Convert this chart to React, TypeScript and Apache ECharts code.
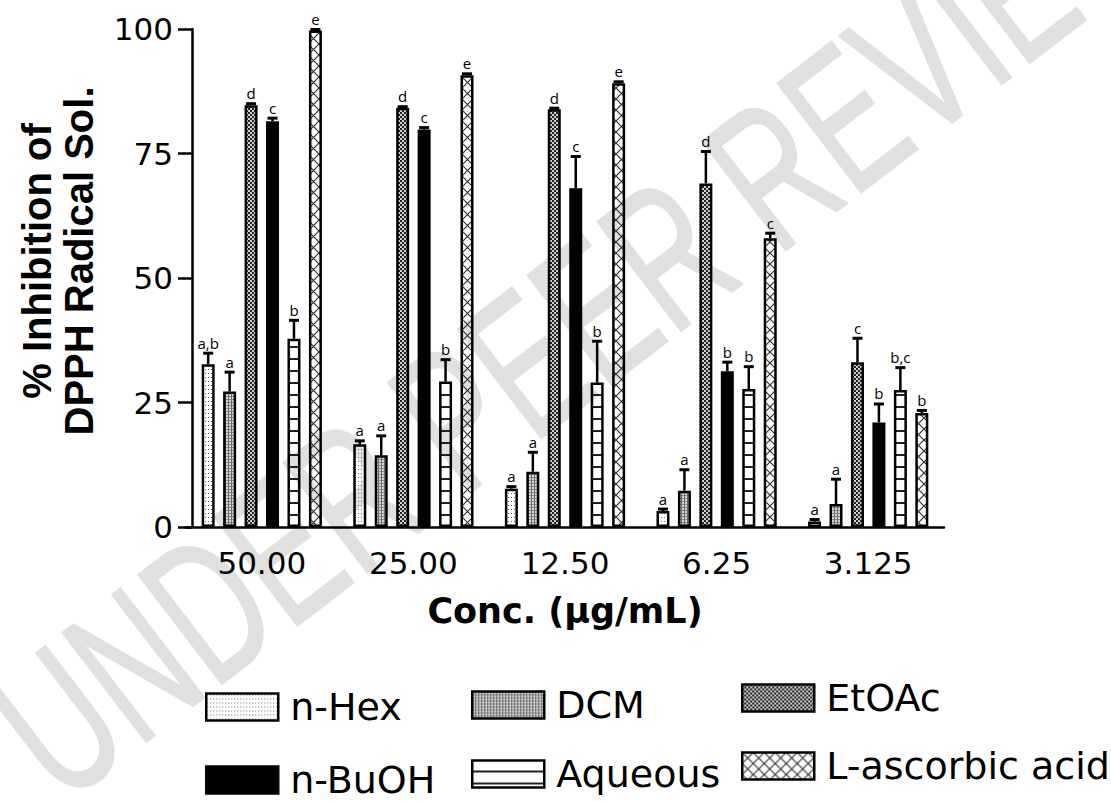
import React, { useEffect, useRef } from 'react';
import * as echarts from 'echarts';

const categories = ['50.00', '25.00', '12.50', '6.25', '3.125'];
const seriesNames = ['n-Hex', 'DCM', 'EtOAc', 'n-BuOH', 'Aqueous', 'L-ascorbic acid'];

const nHex = [32.7, 16.6, 7.7, 3.2, 1.1];
const nHexErr = [2.2, 0.7, 0.4, 0.4, 0.4];
const nHexLetters = ['a,b', 'a', 'a', 'a', 'a'];

const dcm = [27.2, 14.4, 11.1, 7.3, 4.6];
const dcmErr = [3.9, 3.9, 3.9, 4.2, 5.0];
const dcmLetters = ['a', 'a', 'a', 'a', 'a'];

const etoac = [84.7, 84.2, 83.9, 69.0, 33.1];
const etoacErr = [0.3, 0.2, 0.2, 6.4, 4.8];
const etoacLetters = ['d', 'd', 'd', 'd', 'c'];

const nbuoh = [81.5, 79.8, 68.0, 31.3, 21.0];
const nbuohErr = [0.6, 0.4, 6.4, 1.8, 3.7];
const nbuohLetters = ['c', 'c', 'c', 'b', 'b'];

const aqueous = [37.8, 29.2, 29.0, 27.7, 27.5];
const aqueousErr = [3.7, 4.4, 8.3, 4.5, 4.5];
const aqueousLetters = ['b', 'b', 'b', 'b', 'b,c'];

const lasc = [99.7, 90.7, 89.1, 58.0, 22.9];
const lascErr = [0.2, 0.3, 0.3, 1.0, 0.5];
const lascLetters = ['e', 'e', 'e', 'c', 'b'];

const yTicks = [0, 25, 50, 75, 100];

const values = [nHex, dcm, etoac, nbuoh, aqueous, lasc];
const errors = [nHexErr, dcmErr, etoacErr, nbuohErr, aqueousErr, lascErr];
const letters = [nHexLetters, dcmLetters, etoacLetters, nbuohLetters, aqueousLetters, lascLetters];

function makePattern(w: number, h: number, draw: (ctx: CanvasRenderingContext2D) => void): any {
  const c = document.createElement('canvas');
  c.width = w;
  c.height = h;
  const ctx = c.getContext('2d') as CanvasRenderingContext2D;
  draw(ctx);
  return { image: c, repeat: 'repeat', imageWidth: w, imageHeight: h };
}

function buildPatterns(): any[] {
  const hex = makePattern(3, 4, (ctx) => {
    ctx.fillStyle = '#666';
    ctx.fillRect(1, 1, 1, 1);
  });
  const dcmP = makePattern(3, 3, (ctx) => {
    ctx.fillStyle = '#d4d4d4';
    ctx.fillRect(0, 0, 3, 3);
    ctx.fillStyle = '#6a6a6a';
    ctx.fillRect(0, 0, 1, 3);
    ctx.fillStyle = '#8a8a8a';
    ctx.fillRect(1, 0, 2, 1);
  });
  const etP = makePattern(4, 4, (ctx) => {
    ctx.fillStyle = '#d0d0d0';
    ctx.fillRect(0, 0, 4, 4);
    ctx.fillStyle = '#222';
    ctx.fillRect(0, 0, 2, 2);
    ctx.fillRect(2, 2, 2, 2);
  });
  const aqP = makePattern(8, 12, (ctx) => {
    ctx.fillStyle = '#222';
    ctx.fillRect(0, 10, 8, 2);
  });
  const laP = makePattern(11, 11, (ctx) => {
    ctx.strokeStyle = '#333';
    ctx.lineWidth = 1.2;
    ctx.beginPath();
    ctx.moveTo(0, 0);
    ctx.lineTo(11, 11);
    ctx.moveTo(11, 0);
    ctx.lineTo(0, 11);
    ctx.stroke();
  });
  return [hex, dcmP, etP, '#000', aqP, laP];
}

const BAR_W = 13;
const BAR_GAP = '65%';

export default function App() {
  const ref = useRef<HTMLDivElement>(null);

  useEffect(() => {
    if (!ref.current) return;
    const chart = echarts.init(ref.current, null, { renderer: 'svg' });
    const patterns = buildPatterns();

    const errData: number[][] = [];
    values.forEach((arr, s) => {
      arr.forEach((v, c) => {
        errData.push([c, v, errors[s][c], s]);
      });
    });

    const legendLeft = [205, 471, 741, 205, 471, 741];
    const legendCenter = [707, 705, 698, 780, 774, 766];

    const option: any = {
      animation: false,
      backgroundColor: '#fff',
      grid: { left: 186, right: 167, top: 29, bottom: 274, containLabel: false },
      graphic: {
        elements: [
          {
            type: 'text',
            z: -100,
            x: 20,
            y: 752,
            rotation: 0.655,
            scaleX: 0.66,
            scaleY: 1,
            silent: true,
            style: {
              text: 'UNDER PEER REVIEW',
              fontSize: 200,
              fontFamily: 'Liberation Sans',
              fill: '#e0e0e0',
              stroke: '#e0e0e0',
              lineWidth: 2,
              textAlign: 'left',
              textVerticalAlign: 'middle',
              align: 'left',
              verticalAlign: 'middle',
            },
          },
        ],
      },
      legend: seriesNames.map((n, i) => ({
        data: [n],
        left: legendLeft[i],
        top: legendCenter[i] - 20,
        orient: 'horizontal',
        itemWidth: 72,
        itemHeight: 27,
        itemGap: 0,
        padding: 0,
        icon: 'rect',
        selectedMode: false,
        itemStyle: { borderColor: '#000', borderWidth: 2.5 },
        textStyle: {
          fontFamily: 'DejaVu Sans',
          fontSize: 38,
          color: '#000',
          lineHeight: 40,
          padding: [0, 0, 0, 7],
        },
      })),
      xAxis: {
        type: 'category',
        data: categories,
        name: 'Conc. (\u03bcg/mL)',
        nameLocation: 'middle',
        nameGap: 64,
        nameTextStyle: {
          fontFamily: 'DejaVu Sans',
          fontWeight: 'bold',
          fontSize: 35,
          color: '#000',
          lineHeight: 40,
        },
        axisLine: { lineStyle: { color: '#000', width: 2.5 } },
        axisTick: { show: false },
        axisLabel: {
          fontFamily: 'DejaVu Sans',
          fontSize: 31,
          color: '#000',
          margin: 20,
          lineHeight: 32,
        },
        splitLine: { show: false },
      },
      yAxis: {
        type: 'value',
        min: yTicks[0],
        max: yTicks[yTicks.length - 1],
        interval: 25,
        offset: -6,
        name: '% Inhibition of\nDPPH Radical Sol.',
        nameLocation: 'middle',
        nameRotate: 90,
        nameGap: 92,
        nameTextStyle: {
          fontFamily: 'Liberation Sans',
          fontWeight: 'bold',
          fontSize: 40,
          color: '#000',
          lineHeight: 42,
          padding: [0, 0, 0, 34],
        },
        axisLine: { show: true, lineStyle: { color: '#000', width: 2.5 } },
        axisTick: { show: true, length: 14, lineStyle: { color: '#000', width: 2.5 } },
        axisLabel: {
          fontFamily: 'DejaVu Sans',
          fontSize: 31,
          color: '#000',
          margin: 19,
        },
        splitLine: { show: false },
      },
      series: [
        ...seriesNames.map((name, i) => ({
          type: 'bar',
          name,
          data: values[i],
          barWidth: BAR_W,
          barGap: BAR_GAP,
          itemStyle: { color: patterns[i], borderColor: '#000', borderWidth: 2.5 },
          emphasis: { disabled: true },
          z: 2,
        })),
        {
          type: 'custom',
          name: 'errors',
          data: errData,
          encode: { x: 0, y: 1 },
          z: 5,
          silent: true,
          renderItem: (params: any, api: any) => {
            const c = api.value(0);
            const v = api.value(1);
            const e = api.value(2);
            const s = api.value(3);
            let offset = 0;
            const layout = api.barLayout
              ? api.barLayout({ barWidth: BAR_W, barGap: BAR_GAP, count: 6 })
              : null;
            if (layout && layout[s]) {
              offset = layout[s].offsetCenter;
            } else {
              offset = (s - 2.5) * (BAR_W * 1.65);
            }
            const base = api.coord([c, v]);
            const top = api.coord([c, v + e]);
            const x = base[0] + offset;
            return {
              type: 'group',
              children: [
                {
                  type: 'line',
                  shape: { x1: x, y1: base[1], x2: x, y2: top[1] },
                  style: { stroke: '#000', lineWidth: 2.5 },
                },
                {
                  type: 'line',
                  shape: { x1: x - 5, y1: top[1], x2: x + 5, y2: top[1] },
                  style: { stroke: '#000', lineWidth: 3 },
                },
                {
                  type: 'text',
                  x: x,
                  y: top[1] - 3,
                  style: {
                    text: letters[s][c],
                    fontFamily: 'Open Sans',
                    fontSize: 15,
                    fill: '#000',
                    textAlign: 'center',
                    textVerticalAlign: 'bottom',
                    align: 'center',
                    verticalAlign: 'bottom',
                  },
                },
              ],
            };
          },
        },
      ],
    };

    chart.setOption(option);
    return () => {
      chart.dispose();
    };
  }, []);

  return (
    <div
      ref={ref}
      style={{ position: 'fixed', left: 0, top: 0, width: 1111, height: 801, background: '#fff' }}
    />
  );
}
